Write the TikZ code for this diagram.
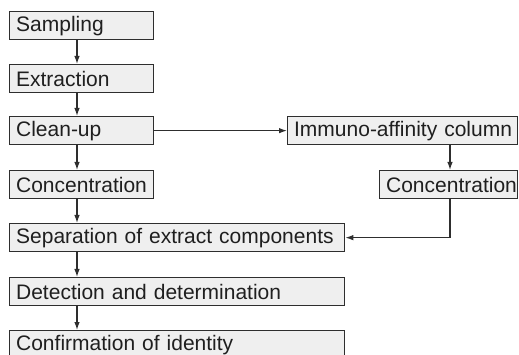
\documentclass[tikz,border=0pt]{standalone}
\usepackage{fontspec}
\setmainfont{Liberation Sans}
\usetikzlibrary{arrows.meta}

\definecolor{boxfill}{HTML}{EFEFEF}
\definecolor{boxline}{HTML}{2E2E2E}

\tikzset{
  stepbox/.style={draw=boxline, line width=1.3pt, fill=boxfill, anchor=north west,
    minimum height=28pt, inner xsep=6.5pt, inner ysep=0pt, align=left,
    text width=#1-13pt, font=\fontsize{21}{24}\selectfont, text=black!88},
  flow/.style={draw=boxline, line width=1.2pt, -{Latex[length=8pt,width=5.5pt]}}
}

\begin{document}
\begin{tikzpicture}[x=1pt,y=-1pt]
  \useasboundingbox (0,0) rectangle (519,355);

  % main line of the procedure
  \node[stepbox=144pt] (samp) at (9,11) {Sampling};
  \node[stepbox=144pt] (extr) at (9,64) {Extraction};
  \node[stepbox=144pt] (clean) at (9,116) {Clean-up};
  \node[stepbox=144pt] (conc) at (9,170) {Concentration};
  \node[stepbox=335pt] (sep) at (9,223) {\mbox{Separation of extract components}};
  \node[stepbox=335pt] (det) at (9,277) {Detection and determination};
  \node[stepbox=335pt] (conf) at (9,330) {Confirmation of identity};

  % side branch
  \node[stepbox=230pt] (immuno) at (287,116) {\mbox{Immuno-affinity column}};
  \node[stepbox=138pt] (conc2) at (379,170) {\mbox{Concentration}};

  \coordinate (spine) at (77,0);
  \coordinate (rspine) at (450,0);

  \draw[flow] (samp.south -| spine) -- (extr.north -| spine);
  \draw[flow] (extr.south -| spine) -- (clean.north -| spine);
  \draw[flow] (clean.south -| spine) -- (conc.north -| spine);
  \draw[flow] (conc.south -| spine) -- (sep.north -| spine);
  \draw[flow] (sep.south -| spine) -- (det.north -| spine);
  \draw[flow] (det.south -| spine) -- (conf.north -| spine);

  \draw[flow] (clean.east) -- (immuno.west);
  \draw[flow] (immuno.south -| rspine) -- (conc2.north -| rspine);
  \draw[flow] (conc2.south -| rspine) |- (sep.east);
\end{tikzpicture}
\end{document}
